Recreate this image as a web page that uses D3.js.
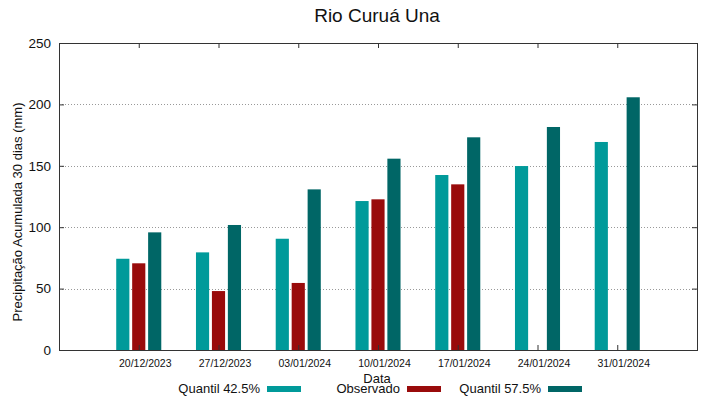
<!DOCTYPE html>
<html>
<head>
<meta charset="utf-8">
<script src="https://cdn.jsdelivr.net/npm/d3@7"></script>
<style>
  body { margin: 0; background: #fff; }
  text { font-family: "Liberation Sans", Arial, sans-serif; fill: #111; }
</style>
</head>
<body>
<svg id="chart" width="719" height="399"></svg>
<script>
"use strict";

const datas = ["20/12/2023", "27/12/2023", "03/01/2024", "10/01/2024", "17/01/2024", "24/01/2024", "31/01/2024"];
const quantil425 = [74.3, 79.5, 90.6, 121.3, 142.5, 149.8, 169.4];
const observado = [70.6, 48.0, 54.6, 122.7, 134.9, null, null];
const quantil575 = [95.8, 101.8, 130.8, 155.8, 173.2, 181.6, 205.8];
const yTicks = [0, 50, 100, 150, 200, 250];

const series = [
    { name: "Quantil 42.5%", values: quantil425, color: "#009a9a", off: -0.2 },
    { name: "Observado", values: observado, color: "#990b0b", off: 0 },
    { name: "Quantil 57.5%", values: quantil575, color: "#006666", off: 0.2 }
];

const svg = d3.select("#chart");
const mLeft = 59, mRight = 697, mTop = 43, mBottom = 350;

const x = d3.scaleLinear().domain([-1, datas.length]).range([mLeft, mRight]);
const y = d3.scaleLinear().domain([0, 250]).range([mBottom, mTop]);
const barW = x(0.165) - x(0);

// grid
svg.append("g").selectAll("line")
    .data(yTicks.filter(function(d) { return d > 0 && d < 250; }))
    .enter().append("line")
        .attr("x1", mLeft).attr("x2", mRight)
        .attr("y1", function(d) { return Math.round(y(d)) + 0.5; })
        .attr("y2", function(d) { return Math.round(y(d)) + 0.5; })
        .style("stroke", "#999")
        .style("stroke-dasharray", "1,2");

// bars
series.forEach(function(s) {
    svg.append("g").selectAll("rect")
        .data(s.values.map(function(v, i) { return { i: i, v: v }; })
            .filter(function(d) { return d.v !== null; }))
        .enter().append("rect")
            .attr("x", function(d) { return x(d.i + s.off) - barW / 2; })
            .attr("y", function(d) { return y(d.v); })
            .attr("width", barW)
            .attr("height", function(d) { return y(0) - y(d.v); })
            .style("fill", s.color);
});

// frame
svg.append("rect")
    .attr("x", mLeft + 0.5).attr("y", mTop + 0.5)
    .attr("width", mRight - mLeft).attr("height", mBottom - mTop)
    .style("fill", "none").style("stroke", "#333");

// y axis ticks + labels
const yAxis = svg.append("g").attr("transform", "translate(" + mLeft + ",0)")
    .call(d3.axisLeft(y).tickValues(yTicks).tickSize(-5).tickPadding(8));
yAxis.select(".domain").remove();
yAxis.selectAll("line").style("stroke", "#333");
yAxis.selectAll("text").style("font-size", "13.5px").attr("fill", "#111")
    .style("font-family", "Liberation Sans, Arial, sans-serif");

const yRight = svg.append("g").attr("transform", "translate(" + mRight + ",0)")
    .call(d3.axisRight(y).tickValues(yTicks).tickSize(-5).tickFormat(""));
yRight.select(".domain").remove();
yRight.selectAll("line").style("stroke", "#333");

// x axis ticks + labels
const xAxis = svg.append("g").attr("transform", "translate(0," + mBottom + ")")
    .call(d3.axisBottom(x).tickValues(d3.range(datas.length)).tickSize(-5).tickPadding(10)
        .tickFormat(function(i) { return datas[i]; }));
xAxis.select(".domain").remove();
xAxis.selectAll("line").style("stroke", "#333");
xAxis.selectAll("text").style("font-size", "10.5px").attr("fill", "#111")
    .attr("dx", 6)
    .style("font-family", "Liberation Sans, Arial, sans-serif");

const xTop = svg.append("g").attr("transform", "translate(0," + mTop + ")")
    .call(d3.axisTop(x).tickValues(d3.range(datas.length)).tickSize(-5).tickFormat(""));
xTop.select(".domain").remove();
xTop.selectAll("line").style("stroke", "#333");

// title and axis labels
svg.append("text")
    .attr("x", 377).attr("y", 22)
    .attr("text-anchor", "middle")
    .style("font-size", "19px")
    .text("Rio Curuá Una");

svg.append("text")
    .attr("transform", "translate(22,212) rotate(-90)")
    .attr("text-anchor", "middle")
    .style("font-size", "13px")
    .text("Precipitação Acumulada 30 dias (mm)");

svg.append("text")
    .attr("x", 377).attr("y", 383)
    .attr("text-anchor", "middle")
    .style("font-size", "13px")
    .text("Data");

// legend
const legendEnds = [260, 400, 541];
series.forEach(function(s, k) {
    svg.append("text")
        .attr("x", legendEnds[k]).attr("y", 393)
        .attr("text-anchor", "end")
        .style("font-size", "13px")
        .text(s.name);
    svg.append("rect")
        .attr("x", legendEnds[k] + 7).attr("y", 386)
        .attr("width", 34).attr("height", 6)
        .style("fill", s.color);
});
</script>
</body>
</html>
